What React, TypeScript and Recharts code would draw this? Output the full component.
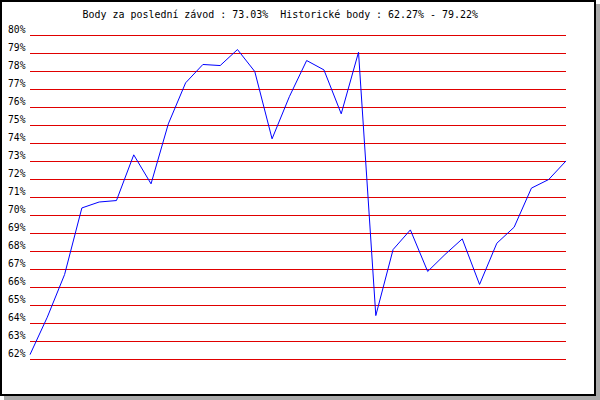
import React from "react";
import { LineChart, Line, XAxis, YAxis, CartesianGrid } from "recharts";

const titleText = "Body za poslední závod : 73.03%  Historické body : 62.27% - 79.22%";
const yTicks = [62, 63, 64, 65, 66, 67, 68, 69, 70, 71, 72, 73, 74, 75, 76, 77, 78, 79, 80];
const values = [
  62.27, 64.35, 66.72, 70.42, 70.75, 70.83, 73.37, 71.76, 75.09, 77.37, 78.39,
  78.33, 79.22, 78.0, 74.26, 76.6, 78.61, 78.09, 75.65, 79.07, 64.44, 68.11,
  69.2, 66.89, 67.83, 68.7, 66.17, 68.46, 69.35, 71.52, 72.0, 73.03,
];
const data = values.map((v, i) => ({ i, v }));

const FONT = "'DejaVu Sans Mono', monospace";

const YTick = (props: any) => {
  const { y, payload } = props;
  return (
    <text
      x={8}
      y={y - 2.5}
      fontFamily={FONT}
      fontSize={10}
      fill="#000"
      textLength={17.5}
      lengthAdjust="spacingAndGlyphs"
    >
      {payload.value}%
    </text>
  );
};

export default function App() {
  return (
    <div style={{ position: "fixed", left: 0, top: 0, width: 600, height: 400, background: "#fff" }}>
      <div
        style={{
          position: "absolute",
          left: 0,
          top: 0,
          width: 596,
          height: 396,
          boxSizing: "border-box",
          border: "2px solid #000",
          boxShadow: "4px 4px 0 #aaaaaa",
          background: "#fff",
        }}
      />
      <div style={{ position: "absolute", left: 0, top: 0 }}>
        <LineChart
          width={600}
          height={400}
          data={data}
          margin={{ top: 35.5, right: 34, bottom: 40.5, left: 0 }}
        >
          <CartesianGrid horizontal vertical={false} stroke="#e00000" strokeWidth={1} />
          <XAxis type="number" dataKey="i" domain={[0, values.length - 1]} hide />
          <YAxis
            domain={[62, 80]}
            ticks={yTicks}
            width={30}
            axisLine={false}
            tickLine={false}
            interval={0}
            tick={<YTick />}
          />
          <Line
            dataKey="v"
            stroke="#0000ff"
            strokeWidth={1}
            dot={false}
            type="linear"
            isAnimationActive={false}
          />
        </LineChart>
      </div>
      <svg style={{ position: "absolute", left: 0, top: 0 }} width={600} height={30}>
        <text
          x={82.5}
          y={17.5}
          fontFamily={FONT}
          fontSize={10}
          fill="#000"
          textLength={395.5}
          lengthAdjust="spacingAndGlyphs"
          xmlSpace="preserve"
          style={{ whiteSpace: "pre" }}
        >
          {titleText}
        </text>
      </svg>
    </div>
  );
}
